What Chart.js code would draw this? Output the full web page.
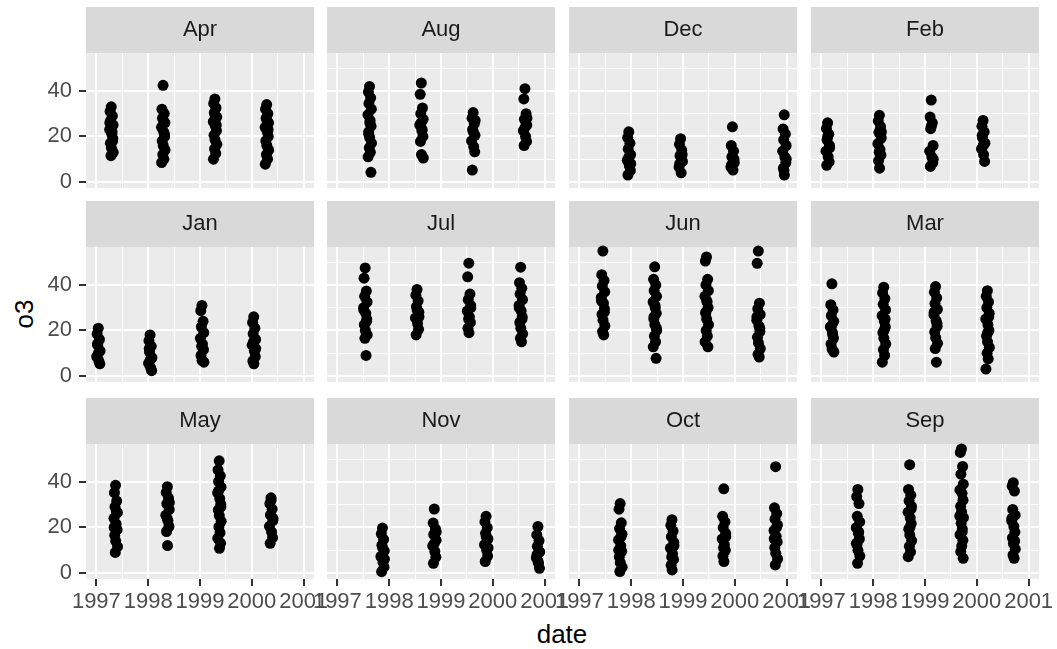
<!DOCTYPE html>
<html>
<head>
<meta charset="utf-8">
<script src="https://cdn.jsdelivr.net/npm/chart.js@4.4.1/dist/chart.umd.min.js"></script>
<style>
  html, body { margin: 0; padding: 0; background: #fff; overflow: hidden; }
  #wrap { position: relative; width: 1057px; height: 649px; }
  canvas { position: absolute; }
  .axis-title {
    position: absolute;
    font-family: "Liberation Sans", Arial, sans-serif;
    font-size: 26px;
    line-height: 1;
    color: #000;
    white-space: nowrap;
  }
  #ytitle { left: 24px; top: 314px; transform: translate(-50%, -50%) rotate(-90deg); }
  #xtitle { left: 562px; top: 634px; transform: translate(-50%, -50%); }
</style>
</head>
<body>
<div id="wrap">
  <div class="axis-title" id="ytitle">o3</div>
  <div class="axis-title" id="xtitle">date</div>
</div>
<script>
// facets, in the order ggplot draws them (alphabetical)
const months = ['Apr', 'Aug', 'Dec', 'Feb', 'Jan', 'Jul', 'Jun', 'Mar', 'May', 'Nov', 'Oct', 'Sep'];
const monthIndex = [3, 7, 11, 1, 0, 6, 5, 2, 4, 10, 9, 8];
const years = [1997, 1998, 1999, 2000];
// day of month of the i-th reading in each strip
const obsDays = [14, 6, 22, 10, 27, 3, 18, 25, 8, 15, 28, 12, 20, 4, 24, 16, 9, 26, 2, 19];

// o3 readings, one list per year (1997..2000)
const apr = [
  [33, 31, 29, 27, 25, 23, 21, 19, 17, 15, 13, 11.5, 22, 26, 18],
  [42.5, 32, 30, 28, 26, 24, 22, 20, 18, 16, 14, 12, 10, 8.5, 21, 27],
  [36.5, 34.5, 32.5, 30.5, 28.5, 26.5, 24.5, 22.5, 20.5, 18.5, 16.5, 14.5, 12.5, 10, 25, 29],
  [34, 32, 30, 28, 26, 24, 22, 20, 18, 16, 14, 12, 10, 7.8, 23, 27]
];
const aug = [
  [42, 39.5, 37, 34.5, 32, 29.5, 27, 24.5, 22, 19.5, 17, 15, 13, 11, 4.2, 26, 21],
  [43.5, 38.5, 32.5, 30, 27.5, 25, 22.5, 20, 17.8, 12, 10.5, 26, 23],
  [30.5, 28, 25.5, 23, 20.5, 18, 15.5, 13.2, 5.2, 22, 27],
  [41, 36.5, 30, 27.5, 25, 22.5, 20, 17.8, 16, 24, 28]
];
const dec = [
  [22, 19.5, 17, 14.5, 12, 9.5, 7, 5, 3, 11, 8],
  [19, 16.5, 14, 11.5, 9, 6.5, 4, 12, 8],
  [24.2, 16, 13.5, 11, 8.5, 6.5, 5.2, 10, 7.5],
  [29.5, 23.3, 21, 18.5, 16, 13.5, 11, 8.5, 6, 3, 10, 5]
];
const feb = [
  [26, 23.5, 21, 18.5, 16, 13.5, 11, 8.8, 7.3, 20, 15],
  [29.3, 26.8, 24.3, 21.8, 19.3, 16.8, 14.3, 11.8, 9.3, 6, 22, 13],
  [36, 28.5, 26, 23.4, 16, 13.5, 11, 8.5, 6.8, 24.5, 10],
  [27, 24.5, 22, 19.5, 17, 14.5, 12, 9, 20.5, 16]
];
const jan = [
  [21, 18.5, 16, 13.5, 11, 8.5, 6.5, 5.3, 14, 10],
  [18, 15.5, 13, 10.5, 8, 5.5, 3.5, 2.3, 12, 7],
  [31, 28.7, 24, 21.5, 19, 16.5, 14, 11.5, 9, 6.8, 6, 13],
  [26, 23.5, 21, 18.5, 16, 13.5, 11, 8.5, 6.5, 5.3, 12, 15]
];
const jul = [
  [47.5, 43, 37.3, 35, 32.5, 30, 27.5, 25, 22.5, 20, 18, 16.5, 9, 29, 24],
  [38, 35.5, 33, 30.5, 28, 25.5, 23, 20.5, 18, 29, 26],
  [49.6, 43.6, 36, 33.5, 31, 28.5, 26, 23.5, 21, 19, 30, 25],
  [47.8, 41, 38.5, 36, 33.5, 31, 28.5, 26, 23.5, 21, 18.5, 16.5, 15, 30, 25]
];
const jun = [
  [54.9, 44.5, 42, 39.5, 37, 34.5, 32, 29.5, 27, 24.5, 22, 19.5, 18, 33, 28],
  [48, 42.5, 40, 37.5, 35, 32.5, 30, 27.5, 25, 22.5, 20, 17.5, 15, 12.8, 7.7, 31, 26, 21],
  [52.3, 50.5, 42.5, 40, 37.5, 35, 32.5, 30, 27.5, 25, 22.5, 20, 17.5, 15, 12.8, 33, 28],
  [54.9, 49.5, 32, 29.5, 27, 24.5, 22, 19.5, 17, 14.5, 12, 9.5, 8.3, 26, 21]
];
const mar = [
  [40.5, 31.3, 29, 26.5, 24, 21.5, 19, 16.5, 14, 11.8, 10.5, 22, 18],
  [39, 36.5, 34, 31.5, 29, 26.5, 24, 21.5, 19, 16.5, 14, 11.5, 9, 6, 25, 20],
  [39.3, 36.8, 34.3, 31.8, 29.3, 26.8, 24.3, 21.8, 19.3, 16.8, 14.3, 12, 6, 28, 23],
  [37.5, 35, 32.5, 30, 27.5, 25, 22.5, 20, 17.5, 15, 12.5, 10, 7.5, 3, 26, 19]
];
const may = [
  [38.5, 35.3, 31.6, 29, 26.5, 24, 21.5, 19, 16.5, 14, 11.5, 9, 27, 20],
  [37.9, 35.4, 32.9, 30.4, 27.9, 25.4, 22.9, 20.4, 18.2, 12, 31, 24],
  [49.3, 45.3, 42.7, 40.2, 37.7, 35.2, 32.7, 30.2, 27.7, 25.2, 22.7, 20.2, 17.7, 15.2, 13, 10.8, 36, 29],
  [33, 30.5, 28, 25.5, 23, 20.5, 18, 15.5, 13, 32, 24]
];
const nov = [
  [19.7, 17.2, 14.7, 12.2, 9.7, 7.2, 4.7, 2.5, 0.5, 11, 6],
  [28.1, 21.9, 19.4, 16.9, 14.4, 11.9, 9.4, 6.9, 4.2, 13, 18],
  [24.9, 22.4, 19.9, 17.4, 14.9, 12.4, 9.9, 7.4, 5, 16, 11],
  [20.4, 16.7, 14.2, 11.7, 9.2, 6.7, 4.2, 2, 8, 5]
];
const oct = [
  [30.5, 28, 22, 19.5, 17, 14.5, 12, 9.5, 7, 4.5, 2.5, 0.6, 16, 10],
  [23.4, 20.9, 18.4, 15.9, 13.4, 10.9, 8.4, 5.9, 3.4, 1.3, 12, 7],
  [37, 24.9, 22.4, 19.9, 17.4, 14.9, 12.4, 9.9, 7.4, 5, 16, 11],
  [46.7, 28.6, 26.1, 23.6, 21.1, 18.6, 16.1, 13.6, 11.1, 8.6, 6.1, 3.5, 20, 15]
];
const sep = [
  [36.7, 33.5, 30.5, 24.9, 22.4, 19.9, 17.4, 14.9, 12.4, 9.9, 7.4, 4.2, 18, 13],
  [47.6, 36.7, 34.2, 31.7, 29.2, 26.7, 24.2, 21.7, 19.2, 16.7, 14.2, 11.7, 9.2, 7.1, 28, 20],
  [54.5, 53, 46.8, 43.4, 39, 36.5, 35, 32, 29.3, 26.8, 24.3, 21.8, 19.3, 16.8, 14.3, 11.8, 9.3, 6.4, 25, 18],
  [39.7, 38.2, 36, 27.9, 25.4, 22.9, 20.4, 17.9, 15.4, 12.9, 10.4, 7.9, 6.4, 24, 14]
];
const o3ByMonth = [apr, aug, dec, feb, jan, jul, jun, mar, may, nov, oct, sep];

// axes
const xMajor = [1997, 1998, 1999, 2000, 2001];
const xMinor = [1997.5, 1998.5, 1999.5, 2000.5];
const yMajor = [0, 20, 40];
const yMinor = [10, 30, 50];
const xRange = [1996.8, 2001.2];
const yRange = [-2.7, 56.7];

// panel layout (pixels)
const colLefts = [86, 327, 569, 811];
const rowTops = [7, 201, 398];
const panelW = 228, panelH = 135, stripH = 46;
const yAxisW = 86, sidePad = 30, xAxisH = 40;
const tickFont = { family: '"Liberation Sans", Arial, sans-serif', size: 22 };

const xGrid = xMajor.concat(xMinor).sort((a, b) => a - b);
const yGrid = yMajor.concat(yMinor).sort((a, b) => a - b);

const panelBg = {
  id: 'panelBg',
  beforeDraw(chart) {
    const { ctx, chartArea: a } = chart;
    ctx.save();
    ctx.fillStyle = '#EBEBEB';
    ctx.fillRect(a.left, a.top, a.right - a.left, a.bottom - a.top);
    ctx.fillStyle = '#D9D9D9';
    ctx.fillRect(a.left, a.top - stripH, a.right - a.left, stripH);
    ctx.restore();
  }
};

const wrap = document.getElementById('wrap');

months.forEach((name, i) => {
  const col = i % 4, row = Math.floor(i / 4);
  const showY = col === 0, showX = row === 2;
  const padLeft = showY ? yAxisW : sidePad;
  const w = padLeft + panelW + sidePad;
  const h = stripH + panelH + (showX ? xAxisH : 0);

  const canvas = document.createElement('canvas');
  canvas.width = w;
  canvas.height = h;
  canvas.style.width = w + 'px';
  canvas.style.height = h + 'px';
  canvas.style.left = (colLefts[col] - padLeft) + 'px';
  canvas.style.top = rowTops[row] + 'px';
  wrap.appendChild(canvas);

  const points = [];
  o3ByMonth[i].forEach((vals, k) => {
    vals.forEach((v, j) => {
      const day = obsDays[j % obsDays.length];
      points.push({ x: years[k] + (monthIndex[i] + (day - 0.5) / 30.4) / 12, y: v });
    });
  });

  const isMajorX = c => c.tick && xMajor.includes(c.tick.value);
  const isMajorY = c => c.tick && yMajor.includes(c.tick.value);

  new Chart(canvas, {
    type: 'scatter',
    data: {
      datasets: [{
        data: points,
        backgroundColor: '#000000',
        borderWidth: 0,
        pointRadius: 5.5,
        pointHoverRadius: 5.5,
        clip: false
      }]
    },
    options: {
      responsive: false,
      animation: false,
      devicePixelRatio: 1,
      events: [],
      layout: {
        autoPadding: false,
        padding: { left: showY ? 0 : sidePad, right: sidePad, top: 0, bottom: 0 }
      },
      plugins: {
        legend: { display: false },
        tooltip: { enabled: false },
        title: {
          display: true,
          text: name,
          fullSize: false,
          color: '#1A1A1A',
          font: { family: tickFont.family, size: 22, weight: 'normal' },
          padding: { top: 9.8, bottom: 9.8 }
        }
      },
      scales: {
        x: {
          type: 'linear',
          min: xRange[0],
          max: xRange[1],
          border: { display: false },
          afterBuildTicks: s => { s.ticks = xGrid.map(v => ({ value: v })); },
          afterFit: s => { s.height = showX ? xAxisH : 0; s.paddingLeft = 0; s.paddingRight = 0; },
          grid: {
            color: '#FFFFFF',
            lineWidth: c => isMajorX(c) ? 2 : 1,
            drawTicks: showX,
            tickLength: 7,
            tickWidth: 2,
            tickColor: c => isMajorX(c) ? '#333333' : 'rgba(0,0,0,0)'
          },
          ticks: {
            display: showX,
            autoSkip: false,
            maxRotation: 0,
            minRotation: 0,
            padding: 3,
            color: '#4D4D4D',
            font: tickFont,
            callback: v => xMajor.includes(v) ? String(v) : ''
          }
        },
        y: {
          type: 'linear',
          min: yRange[0],
          max: yRange[1],
          border: { display: false },
          afterBuildTicks: s => { s.ticks = yGrid.map(v => ({ value: v })); },
          afterFit: s => { s.width = showY ? yAxisW : 0; s.paddingTop = 0; s.paddingBottom = 0; },
          grid: {
            color: '#FFFFFF',
            lineWidth: c => isMajorY(c) ? 2 : 1,
            drawTicks: showY,
            tickLength: 7,
            tickWidth: 2,
            tickColor: c => isMajorY(c) ? '#333333' : 'rgba(0,0,0,0)'
          },
          ticks: {
            display: showY,
            padding: 7,
            color: '#4D4D4D',
            font: tickFont,
            callback: v => yMajor.includes(v) ? String(v) : ''
          }
        }
      }
    },
    plugins: [panelBg]
  });
});
</script>
</body>
</html>
